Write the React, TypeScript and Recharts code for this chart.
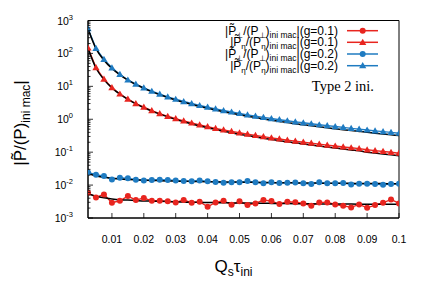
import React from 'react';
import { LineChart, Line, XAxis, YAxis, Legend, ReferenceArea } from 'recharts';

const xValues = [0.0025, 0.005, 0.0075, 0.01, 0.0125, 0.015, 0.0175, 0.02, 0.0225, 0.025, 0.0275, 0.03, 0.0325, 0.035, 0.0375, 0.04, 0.0425, 0.045, 0.0475, 0.05, 0.0525, 0.055, 0.0575, 0.06, 0.0625, 0.065, 0.0675, 0.07, 0.0725, 0.075, 0.0775, 0.08, 0.0825, 0.085, 0.0875, 0.09, 0.0925, 0.095, 0.0975, 0.1];

const perpG01 = [0.00583, 0.00423, 0.00521, 0.0029, 0.00333, 0.00463, 0.0035, 0.00403, 0.00333, 0.00333, 0.0032, 0.00298, 0.0035, 0.0029, 0.00311, 0.00219, 0.00298, 0.00333, 0.00252, 0.0032, 0.00247, 0.00278, 0.0035, 0.00327, 0.00264, 0.00311, 0.003, 0.00278, 0.00235, 0.00298, 0.00298, 0.00258, 0.00235, 0.0021, 0.00258, 0.00204, 0.00247, 0.0029, 0.00367, 0.00278];
const etaG01 = [146, 37, 16.5, 9.1, 5.85, 4.1, 3.0, 2.32, 1.83, 1.48, 1.23, 1.04, 0.89, 0.77, 0.675, 0.595, 0.53, 0.475, 0.428, 0.388, 0.353, 0.322, 0.296, 0.272, 0.252, 0.233, 0.216, 0.201, 0.188, 0.175, 0.164, 0.154, 0.144, 0.136, 0.128, 0.118, 0.111, 0.105, 0.099, 0.093];
const perpG02 = [0.0243, 0.0206, 0.0188, 0.0149, 0.0167, 0.016, 0.0145, 0.0139, 0.0142, 0.0145, 0.0142, 0.0139, 0.0132, 0.0131, 0.0139, 0.013, 0.0123, 0.0117, 0.0121, 0.0121, 0.0132, 0.0121, 0.0113, 0.0121, 0.0115, 0.0117, 0.0119, 0.0113, 0.0107, 0.0121, 0.0113, 0.0113, 0.0115, 0.0105, 0.011, 0.011, 0.0107, 0.0102, 0.0107, 0.011];
const etaG02 = [570, 143, 66, 36.5, 23, 15.6, 11.6, 9.0, 7.1, 5.8, 4.8, 4.05, 3.45, 3.0, 2.62, 2.32, 2.06, 1.84, 1.66, 1.5, 1.36, 1.24, 1.14, 1.05, 0.97, 0.9, 0.835, 0.78, 0.73, 0.68, 0.64, 0.6, 0.565, 0.53, 0.5, 0.472, 0.445, 0.42, 0.398, 0.375];

const fitPerpG01 = [0.0055, 0.0046, 0.0041, 0.0038, 0.0036, 0.0035, 0.0034, 0.0033, 0.00325, 0.0032, 0.00315, 0.0031, 0.00305, 0.003, 0.003, 0.00296, 0.00293, 0.0029, 0.00288, 0.00286, 0.00284, 0.00282, 0.0028, 0.00278, 0.00276, 0.00274, 0.00272, 0.0027, 0.00269, 0.00268, 0.00267, 0.00266, 0.00265, 0.00264, 0.00263, 0.00262, 0.00261, 0.0026, 0.0026, 0.0026];
const fitEtaG01 = [144, 36, 16, 9, 5.76, 4.0, 2.93, 2.24, 1.77, 1.43, 1.18, 0.99, 0.84, 0.72, 0.63, 0.55, 0.49, 0.435, 0.39, 0.35, 0.318, 0.29, 0.265, 0.243, 0.224, 0.206, 0.191, 0.177, 0.165, 0.153, 0.143, 0.134, 0.125, 0.117, 0.11, 0.1, 0.094, 0.088, 0.083, 0.078];
const fitPerpG02 = [0.0225, 0.019, 0.0172, 0.016, 0.0153, 0.0148, 0.0144, 0.0141, 0.0138, 0.0136, 0.0134, 0.0132, 0.0131, 0.0129, 0.0128, 0.0127, 0.0126, 0.0125, 0.0124, 0.0123, 0.0122, 0.0121, 0.012, 0.0119, 0.0118, 0.0118, 0.0117, 0.0116, 0.0116, 0.0115, 0.0114, 0.0114, 0.0113, 0.0113, 0.0112, 0.0112, 0.0111, 0.0111, 0.011, 0.011];
const fitEtaG02 = [560, 140, 62.2, 35, 22.4, 15.5, 11.4, 8.72, 6.88, 5.57, 4.6, 3.86, 3.28, 2.82, 2.45, 2.15, 1.9, 1.69, 1.51, 1.36, 1.23, 1.12, 1.02, 0.935, 0.86, 0.79, 0.735, 0.68, 0.635, 0.59, 0.55, 0.515, 0.483, 0.453, 0.426, 0.401, 0.378, 0.357, 0.338, 0.32];

const xTicks = [0.01, 0.02, 0.03, 0.04, 0.05, 0.06, 0.07, 0.08, 0.09, 0.1];
const xTickLabels = ['0.01', '0.02', '0.03', '0.04', '0.05', '0.06', '0.07', '0.08', '0.09', '0.1'];
const yMajorTicks = [0.001, 0.01, 0.1, 1, 10, 100, 1000];
const yExponents = ['-3', '-2', '-1', '0', '1', '2', '3'];
const minorMultipliers = [2, 3, 4, 5, 6, 7, 8, 9];

const seriesKeys = ['perpG01', 'etaG01', 'perpG02', 'etaG02'];
const seriesSymbols = ['⊥', 'η', '⊥', 'η'];
const seriesG = ['0.1', '0.1', '0.2', '0.2'];
const seriesColors = ['#e8251f', '#e8251f', '#1f7bc1', '#1f7bc1'];
const seriesMarkers = ['circle', 'triangle', 'circle', 'triangle'];
const annotation = 'Type 2 ini.';

const data = xValues.map((x, i) => ({
  x,
  perpG01: perpG01[i],
  etaG01: etaG01[i],
  perpG02: perpG02[i],
  etaG02: etaG02[i],
  fitPerpG01: fitPerpG01[i],
  fitEtaG01: fitEtaG01[i],
  fitPerpG02: fitPerpG02[i],
  fitEtaG02: fitEtaG02[i],
}));

const yAllTicks: number[] = [];
yMajorTicks.forEach((m, i) => {
  yAllTicks.push(m);
  if (i < yMajorTicks.length - 1) minorMultipliers.forEach((k) => yAllTicks.push(m * k));
});

const SANS = '"Liberation Sans", Arial, Helvetica, sans-serif';

const YTick = (props: any) => {
  const { x, y, payload } = props;
  const idx = yMajorTicks.indexOf(payload.value);
  const major = idx >= 0;
  return (
    <g>
      <line x1={x} x2={x + (major ? 5 : 2.5)} y1={y} y2={y} stroke="#000" strokeWidth={0.8} />
      {major && (
        <text x={x - 15} y={y + 4} textAnchor="end" fontFamily={SANS} fontSize={10.5} fill="#000">
          10<tspan dy={-5} fontSize={7.5}>{yExponents[idx]}</tspan>
        </text>
      )}
    </g>
  );
};

const XTick = (props: any) => {
  const { x, y, payload } = props;
  const idx = xTicks.indexOf(payload.value);
  return (
    <g>
      <line x1={x} x2={x} y1={y} y2={y - 5} stroke="#000" strokeWidth={0.8} />
      <text x={x} y={y + 25} textAnchor="middle" fontFamily={SANS} fontSize={10.5} fill="#000">
        {xTickLabels[idx]}
      </text>
    </g>
  );
};

const XLabel = (props: any) => {
  const vb = props.viewBox || { x: 80, y: 210, width: 311 };
  const cx = vb.x + vb.width / 2 - 10;
  return (
    <text x={cx} y={vb.y + 54} textAnchor="middle" fontFamily={SANS} fontSize={17} fill="#000">
      Q<tspan fontSize={12} dy={4}>s</tspan>
      <tspan dy={-4}>τ</tspan>
      <tspan fontSize={12} dy={4}>ini</tspan>
    </text>
  );
};

const YLabel = () => {
  const cx = 18;
  const cy = 115;
  return (
    <text x={cx} y={cy} transform={`rotate(-90, ${cx}, ${cy})`} textAnchor="middle" fontFamily={SANS} fontSize={17} fill="#000">
      |P̃/(P)<tspan fontSize={12} dy={4}>ini mac</tspan>
      <tspan dy={-4}>|</tspan>
    </text>
  );
};

const marker = (type: string, color: string, cx: number, cy: number, key?: any) =>
  type === 'circle' ? (
    <circle key={key} cx={cx} cy={cy} r={3} fill={color} />
  ) : (
    <polygon key={key} points={`${cx},${cy - 3.6} ${cx - 3.6},${cy + 2.6} ${cx + 3.6},${cy + 2.6}`} fill={color} />
  );

const makeDot = (type: string, color: string) => (p: any) => {
  if (p.cx == null || p.cy == null) return <g key={p.index} />;
  return marker(type, color, p.cx, p.cy, p.index);
};

const renderLegend = () => {
  const rowY = [22.7, 34.3, 46, 57.7];
  return (
    <svg width={428} height={100} style={{ display: 'block' }}>
      {seriesKeys.map((k, i) => {
        const y = rowY[i];
        return (
          <g key={k}>
            <text x={330} y={y + 4} textAnchor="end" fontFamily={SANS} fontSize={12} fill="#000">
              |P̃<tspan fontSize={8} dy={3}>{seriesSymbols[i]}</tspan>
              <tspan dy={-3}>/(P</tspan>
              <tspan fontSize={8} dy={3}>{seriesSymbols[i]}</tspan>
              <tspan dy={-3}>)</tspan>
              <tspan fontSize={8.5} dy={3}>ini mac</tspan>
              <tspan dy={-3}>|(g={seriesG[i]})</tspan>
            </text>
            <line x1={339} x2={370} y1={y} y2={y} stroke={seriesColors[i]} strokeWidth={1.5} />
            {marker(seriesMarkers[i], seriesColors[i], 354.7, y)}
          </g>
        );
      })}
      <text x={366} y={83} textAnchor="end" fontFamily='"Liberation Serif", "Times New Roman", serif' fontSize={14.5} fill="#000">
        {annotation}
      </text>
    </svg>
  );
};

export default function App() {
  return (
    <LineChart width={428} height={290} data={data} margin={{ top: 12.5, right: 37, bottom: 0, left: 0 }}>
      <XAxis
        dataKey="x"
        type="number"
        domain={[0.0025, 0.1]}
        ticks={xTicks}
        interval={0}
        allowDataOverflow
        height={80}
        tickSize={0}
        tickMargin={0}
        tickLine={false}
        tick={<XTick />}
        axisLine={{ stroke: '#000', strokeWidth: 1 }}
        label={<XLabel />}
      />
      <YAxis
        type="number"
        scale="log"
        domain={[0.001, 1000]}
        ticks={yAllTicks}
        interval={0}
        allowDataOverflow
        width={80}
        tickSize={0}
        tickMargin={0}
        tickLine={false}
        tick={<YTick />}
        axisLine={{ stroke: '#000', strokeWidth: 1 }}
        label={<YLabel />}
      />
      <ReferenceArea x1={0.0025} x2={0.1} y1={0.001} y2={1000} fill="none" stroke="#000" strokeWidth={1} ifOverflow="visible" />
      {seriesKeys.map((k, i) => (
        <Line
          key={k}
          dataKey={k}
          type="linear"
          stroke={seriesColors[i]}
          strokeWidth={1.4}
          dot={makeDot(seriesMarkers[i], seriesColors[i])}
          isAnimationActive={false}
          legendType="none"
        />
      ))}
      {['fitPerpG01', 'fitEtaG01', 'fitPerpG02', 'fitEtaG02'].map((k) => (
        <Line key={k} dataKey={k} type="monotone" stroke="#000" strokeWidth={1.5} dot={false} isAnimationActive={false} legendType="none" />
      ))}
      <Legend
        content={renderLegend}
        layout="horizontal"
        verticalAlign="middle"
        align="center"
        width={428}
        height={100}
        wrapperStyle={{ top: 0, left: 0, width: 428, height: 100 }}
      />
    </LineChart>
  );
}
